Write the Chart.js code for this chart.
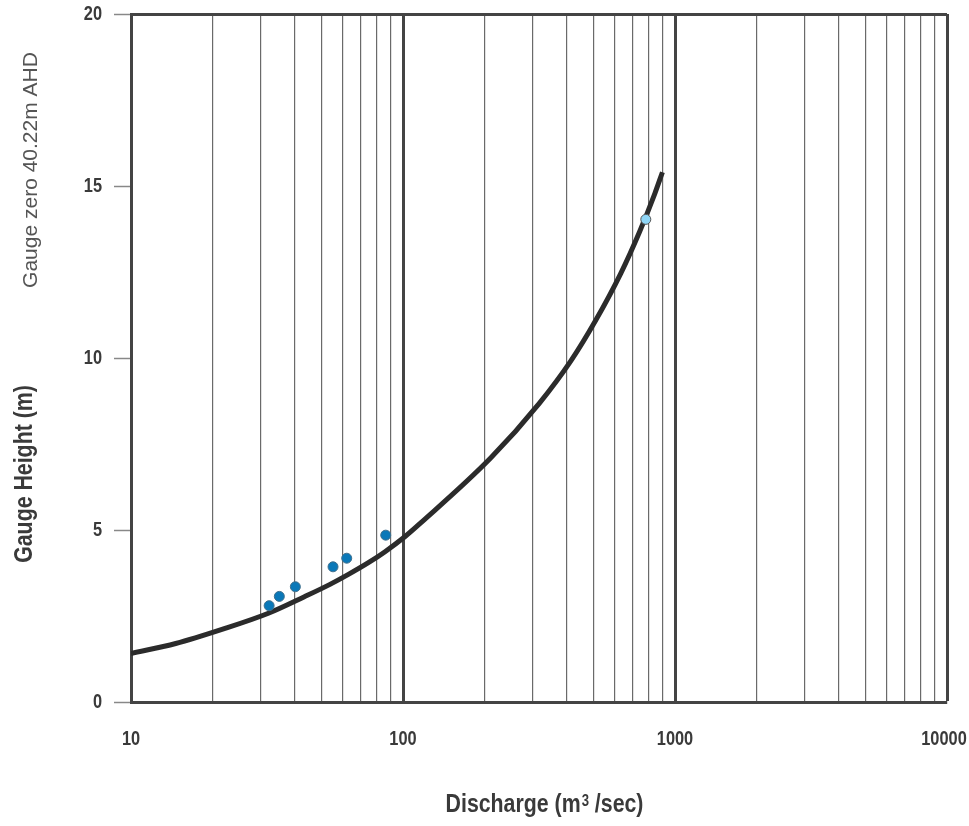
<!DOCTYPE html>
<html>
<head>
<meta charset="utf-8">
<title>Rating curve</title>
<script src="https://cdn.jsdelivr.net/npm/chart.js@4.4.1/dist/chart.umd.min.js"></script>
<style>
  html, body { margin: 0; padding: 0; background: #fff; }
  #wrap { width: 969px; height: 826px; }
</style>
</head>
<body>
<div id="wrap"><canvas id="ratingChart"></canvas></div>
<script>
// Rating curve, discharge (m3/sec) against gauge height (m)
const curveQ = [10, 14.6, 21.6, 32.0, 43.4, 53.9, 63.0, 74.6, 85.9, 101.8, 115.6, 210, 317, 413, 510, 632, 741, 843, 899];
const curveH = [1.41, 1.70, 2.11, 2.58, 3.06, 3.42, 3.71, 4.05, 4.37, 4.81, 5.19, 7.09, 8.68, 9.90, 11.08, 12.46, 13.67, 14.78, 15.40];

// Gauged flows
const gaugedQ = [32.2, 35.1, 40.2, 55.3, 62.1, 86.4];
const gaugedH = [2.80, 3.07, 3.35, 3.93, 4.18, 4.85];

// Flood peak estimate
const peakQ = [781];
const peakH = [14.03];

const xTickLabels = [10, 100, 1000, 10000];
const yTickLabels = [0, 5, 10, 15, 20];
const decadeSteps = [1, 2, 3, 4, 5, 6, 7, 8, 9];

const SANS = "'Liberation Sans', Arial, sans-serif";
const TEXT = '#3a3a3a';

function toPoints(xs, ys) {
    return xs.map((x, i) => ({ x: x, y: ys[i] }));
}

// narrow lettering: regular face squeezed horizontally
function narrowText(c, str, x, y, font, squeeze, align) {
    c.save();
    c.translate(x, y);
    c.scale(squeeze, 1);
    c.font = font;
    c.textAlign = align;
    c.fillText(str, 0, 0);
    c.restore();
}

// Tick labels and axis titles
const axisText = {
    id: 'axisText',
    afterDraw(chart) {
        const c = chart.ctx;
        const area = chart.chartArea;
        const xs = chart.scales.x, ys = chart.scales.y;
        c.save();
        c.fillStyle = TEXT;
        c.textBaseline = 'middle';

        const tickFont = 'bold 21px ' + SANS;
        xTickLabels.forEach(v => {
            let px = xs.getPixelForValue(v);
            if (v === xTickLabels[xTickLabels.length - 1]) px -= 3;
            narrowText(c, String(v), px, area.bottom + 37, tickFont, 0.78, 'center');
        });
        yTickLabels.forEach(v => {
            narrowText(c, String(v), area.left - 29, ys.getPixelForValue(v), tickFont, 0.78, 'right');
        });

        // x title, with superscript
        const titleFont = 'bold 26px ' + SANS;
        const supFont = 'bold 16px ' + SANS;
        const sq = 0.82;
        const a = 'Discharge (m', b = '3', d = ' /sec)';
        c.font = titleFont;
        const wa = c.measureText(a).width * sq, wd = c.measureText(d).width * sq;
        c.font = supFont;
        const wb = c.measureText(b).width * sq;
        let x = (area.left + area.right) / 2 + 5 - (wa + wb + wd) / 2;
        const ty = area.bottom + 103;
        narrowText(c, a, x, ty, titleFont, sq, 'left');
        narrowText(c, b, x + wa + 1, ty - 3, supFont, sq, 'left');
        narrowText(c, d, x + wa + wb + 1, ty, titleFont, sq, 'left');

        // y title
        c.save();
        c.translate(25, 474);
        c.rotate(-Math.PI / 2);
        narrowText(c, 'Gauge Height (m)', 0, 0, titleFont, sq, 'center');
        c.restore();

        // datum note
        c.save();
        c.translate(31, 170);
        c.rotate(-Math.PI / 2);
        c.fillStyle = '#555';
        narrowText(c, 'Gauge zero 40.22m AHD', 0, 0, '21px ' + SANS, 1, 'center');
        c.restore();

        c.restore();
    }
};

new Chart(document.getElementById('ratingChart'), {
    type: 'scatter',
    data: {
        datasets: [{
            label: 'Rating',
            data: toPoints(curveQ, curveH),
            showLine: true,
            borderColor: '#2b2b2b',
            borderWidth: 5,
            pointRadius: 0,
            cubicInterpolationMode: 'monotone',
            order: 2
        }, {
            label: 'Gauged',
            data: toPoints(gaugedQ, gaugedH),
            backgroundColor: '#0a78b8',
            borderColor: '#3f6f8c',
            borderWidth: 1,
            pointRadius: 5,
            order: 1
        }, {
            label: 'Peak',
            data: toPoints(peakQ, peakH),
            backgroundColor: '#8fd6f7',
            borderColor: '#555',
            borderWidth: 1,
            pointRadius: 5,
            order: 1
        }]
    },
    options: {
        responsive: true,
        maintainAspectRatio: false,
        animation: false,
        layout: {
            padding: { top: 14, right: 22, left: 0, bottom: 0 }
        },
        plugins: {
            legend: { display: false },
            tooltip: { enabled: false }
        },
        scales: {
            x: {
                type: 'logarithmic',
                min: 10,
                max: 10000,
                afterBuildTicks(scale) {
                    const ticks = [];
                    [10, 100, 1000].forEach(d => decadeSteps.forEach(s => ticks.push({ value: s * d })));
                    ticks.push({ value: 10000 });
                    scale.ticks = ticks;
                },
                afterFit(scale) {
                    scale.height = 124;
                    scale.paddingLeft = 0;
                    scale.paddingRight = 0;
                },
                border: { color: '#444', width: 3 },
                grid: {
                    drawTicks: false,
                    color: ctx => {
                        const v = ctx.tick && ctx.tick.value;
                        return xTickLabels.includes(v) ? '#444' : '#6a6a6a';
                    },
                    lineWidth: ctx => {
                        const v = ctx.tick && ctx.tick.value;
                        return xTickLabels.includes(v) && v !== 10 ? 3 : 1.2;
                    }
                },
                ticks: { display: false, autoSkip: false }
            },
            y: {
                min: 0,
                max: 20,
                afterBuildTicks(scale) {
                    scale.ticks = yTickLabels.map(v => ({ value: v }));
                },
                afterFit(scale) {
                    scale.width = 131;
                    scale.paddingTop = 0;
                    scale.paddingBottom = 0;
                },
                border: { color: '#444', width: 3 },
                grid: {
                    tickLength: 17,
                    tickColor: '#888',
                    tickWidth: 1.5,
                    color: ctx => ctx.tick && ctx.tick.value === 20 ? '#444' : 'rgba(0,0,0,0)',
                    lineWidth: ctx => ctx.tick && ctx.tick.value === 20 ? 3 : 1
                },
                ticks: { display: false }
            }
        }
    },
    plugins: [axisText]
});
</script>
</body>
</html>
